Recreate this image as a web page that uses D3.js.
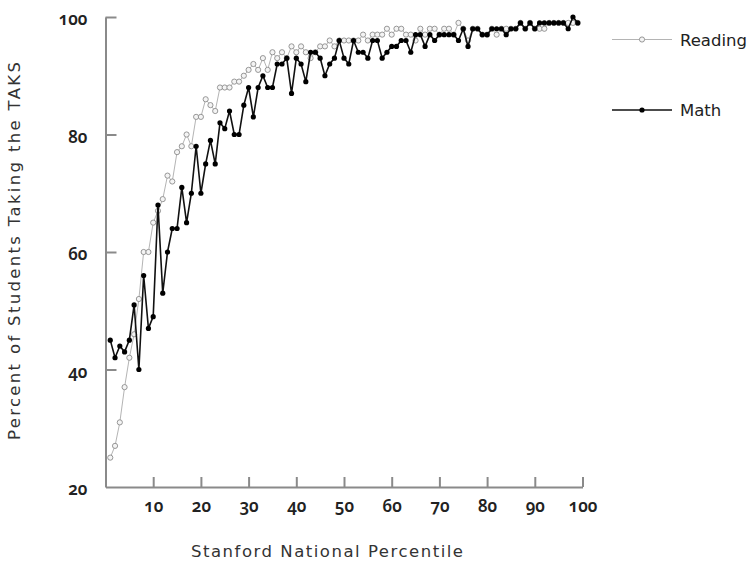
<!DOCTYPE html>
<html>
<head>
<meta charset="utf-8">
<script src="https://cdn.jsdelivr.net/npm/d3@7"></script>
<style>
  body { margin: 0; background: #fff; }
  .tick text { font-family: "Noto Sans", "Open Sans", sans-serif; font-feature-settings: "onum" 1; font-variant-numeric: oldstyle-nums; font-weight: 600; }
</style>
</head>
<body>
<svg id="chart" width="751" height="565"></svg>
<script>
(function() {
    const width = 751;
    const height = 565;

    // percentiles 1..99
    const percentiles = d3.range(1, 100);

    const reading = [
        25, 27, 31, 37, 42, 46, 52, 60, 60, 65,
        67, 69, 73, 72, 77, 78, 80, 78, 83, 83,
        86, 85, 84, 88, 88, 88, 89, 89, 90, 91,
        92, 91, 93, 91, 94, 93, 94, 93, 95, 94,
        95, 94, 93, 94, 95, 95, 96, 95, 96, 96,
        96, 96, 96, 97, 96, 97, 97, 97, 98, 97,
        98, 98, 97, 97, 96, 98, 97, 98, 98, 97,
        98, 98, 97, 99, 98, 96, 98, 98, 97, 97,
        98, 97, 98, 98, 98, 98, 99, 98, 99, 98,
        98, 98, 99, 99, 99, 99, 99, 99, 99
    ];

    const math = [
        45, 42, 44, 43, 45, 51, 40, 56, 47, 49,
        68, 53, 60, 64, 64, 71, 65, 70, 78, 70,
        75, 79, 75, 82, 81, 84, 80, 80, 85, 88,
        83, 88, 90, 88, 88, 92, 92, 93, 87, 93,
        92, 89, 94, 94, 93, 90, 92, 93, 96, 93,
        92, 96, 94, 94, 93, 96, 96, 93, 94, 95,
        95, 96, 96, 94, 97, 97, 95, 97, 96, 97,
        97, 97, 97, 96, 98, 95, 98, 98, 97, 97,
        98, 98, 98, 97, 98, 98, 99, 98, 99, 98,
        99, 99, 99, 99, 99, 99, 98, 100, 99
    ];

    const xTicks = [10, 20, 30, 40, 50, 60, 70, 80, 90, 100];
    const yTicks = [20, 40, 60, 80, 100];

    const svg = d3.select("#chart");

    const x = d3.scaleLinear().domain([0, 100]).range([105.5, 582.5]);
    const y = d3.scaleLinear().domain([20, 100]).range([487, 17]);

    const axisColor = "#8a8a8a";
    const titleFont = "DejaVu Sans, Verdana, sans-serif";

    // x axis, ticks pointing up
    const xAxis = svg.append("g")
        .attr("transform", `translate(0,${y(20)})`)
        .call(d3.axisBottom(x).tickValues(xTicks).tickSizeInner(-10).tickSizeOuter(0).tickPadding(13));
    xAxis.select(".domain").attr("stroke", axisColor).attr("stroke-width", 2);
    xAxis.selectAll(".tick line").attr("stroke", axisColor).attr("stroke-width", 2);
    xAxis.selectAll(".tick text").attr("font-size", 17).attr("fill", "#222");

    // y axis, ticks pointing right
    const yAxis = svg.append("g")
        .attr("transform", `translate(${x(0)},0)`)
        .call(d3.axisLeft(y).tickValues(yTicks).tickSizeInner(-11).tickSizeOuter(0).tickPadding(18));
    yAxis.select(".domain").attr("stroke", axisColor).attr("stroke-width", 2);
    yAxis.selectAll(".tick line").attr("stroke", axisColor).attr("stroke-width", 2);
    yAxis.selectAll(".tick").filter(d => d === 20).select("line").remove();
    yAxis.selectAll(".tick text").attr("font-size", 17).attr("fill", "#222").attr("dy", "0.45em");

    const line = d3.line()
        .x((d, i) => x(percentiles[i]))
        .y(d => y(d));

    // Reading
    svg.append("path")
        .datum(reading)
        .attr("fill", "none")
        .attr("stroke", "#b4b4b4")
        .attr("stroke-width", 1)
        .attr("d", line);
    svg.append("g").selectAll("circle")
        .data(reading)
        .enter().append("circle")
        .attr("cx", (d, i) => x(percentiles[i]))
        .attr("cy", d => y(d))
        .attr("r", 2.6)
        .attr("fill", "#f4f4f4")
        .attr("stroke", "#8c8c8c")
        .attr("stroke-width", 0.9);

    // Math
    svg.append("path")
        .datum(math)
        .attr("fill", "none")
        .attr("stroke", "#111")
        .attr("stroke-width", 1.6)
        .attr("d", line);
    svg.append("g").selectAll("circle")
        .data(math)
        .enter().append("circle")
        .attr("cx", (d, i) => x(percentiles[i]))
        .attr("cy", d => y(d))
        .attr("r", 2.6)
        .attr("fill", "#000");

    // legend
    const legend = svg.append("g");
    legend.append("line")
        .attr("x1", 612).attr("x2", 672).attr("y1", 39.5).attr("y2", 39.5)
        .attr("stroke", "#b4b4b4").attr("stroke-width", 1);
    legend.append("circle")
        .attr("cx", 642).attr("cy", 39.5).attr("r", 2.6)
        .attr("fill", "#f4f4f4").attr("stroke", "#8c8c8c").attr("stroke-width", 0.9);
    legend.append("text")
        .attr("x", 680).attr("y", 46)
        .attr("font-family", titleFont)
        .attr("font-size", 16.5).attr("fill", "#222")
        .text("Reading");

    legend.append("line")
        .attr("x1", 612).attr("x2", 672).attr("y1", 110).attr("y2", 110)
        .attr("stroke", "#111").attr("stroke-width", 1.6);
    legend.append("circle")
        .attr("cx", 642).attr("cy", 110).attr("r", 2.6)
        .attr("fill", "#000");
    legend.append("text")
        .attr("x", 680).attr("y", 116)
        .attr("font-family", titleFont)
        .attr("font-size", 16.5).attr("fill", "#222")
        .text("Math");

    // axis titles
    svg.append("text")
        .attr("x", 327).attr("y", 557)
        .attr("text-anchor", "middle")
        .attr("font-family", titleFont)
        .attr("font-size", 16.5).attr("fill", "#333")
        .attr("textLength", 272)
        .text("Stanford National Percentile");

    svg.append("text")
        .attr("transform", "translate(20,251) rotate(-90)")
        .attr("text-anchor", "middle")
        .attr("font-family", titleFont)
        .attr("font-size", 16.5).attr("fill", "#333")
        .attr("textLength", 378)
        .text("Percent of Students Taking the TAKS");
})();
</script>
</body>
</html>
